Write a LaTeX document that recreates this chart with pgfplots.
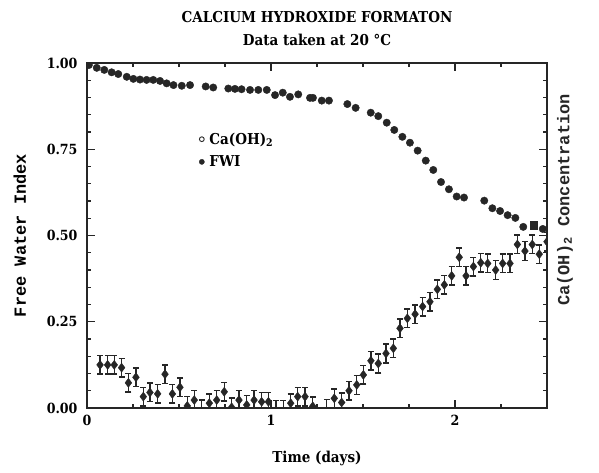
\documentclass[border=0pt]{standalone}
\usepackage{pgfplots}
\pgfplotsset{compat=1.18}
\usepackage{fontspec}
\setmainfont{DejaVu Serif Condensed}
\newfontfamily\monofont{Liberation Mono}
\definecolor{ink}{HTML}{262626}
\begin{document}
\begin{tikzpicture}
\begin{axis}[
  name=ax,
  scale only axis, width=460pt, height=345pt,
  xmin=0, xmax=2.5, ymin=0, ymax=1,
  xtick={0,1,2},
  minor xtick={0.25,0.5,0.75,1.25,1.5,1.75,2.25},
  ytick={0,0.25,0.5,0.75,1},
  minor y tick num=4,
  tick pos=both, tick align=inside,
  major tick length=8pt, minor tick length=4.5pt,
  every tick/.style={line width=1.2pt, ink},
  axis line style={line width=1.8pt, ink},
  /pgf/number format/assume math mode=true,
  yticklabel style={/pgf/number format/fixed, /pgf/number format/fixed zerofill, /pgf/number format/precision=2, font=\fontsize{14}{16}\selectfont\bfseries, xshift=-6pt},
  xticklabel style={font=\fontsize{14}{16}\selectfont\bfseries, yshift=-4pt},
  xlabel={Time (days)},
  xlabel style={font=\fontsize{15}{18}\selectfont\bfseries, yshift=-18pt},
  ylabel={Free Water Index},
  ylabel style={font=\monofont\fontsize{17}{20}\selectfont\bfseries, yshift=14pt},
  title={CALCIUM HYDROXIDE FORMATON\\Data taken at 20 °C},
  title style={font=\fontsize{15}{23}\selectfont\bfseries, align=center, yshift=8pt},
  clip marker paths=true,
  legend style={at={(0.237,0.81)}, anchor=north west, draw=none, fill=none,
    font=\fontsize{15}{18}\selectfont\bfseries, row sep=6pt,
    legend cell align=left,
    nodes={inner xsep=5pt}},
]
\addlegendimage{only marks, mark=o, mark size=2.4pt, ink, line width=0.9pt}
\addlegendentry{Ca(OH)\textsubscript{2}}
\addlegendimage{only marks, mark=*, mark size=2.6pt, ink}
\addlegendentry{FWI}

% FWI
\addplot[forget plot, only marks, mark=*, mark size=3.7pt, ink] table {
x y
0.010 0.994
0.053 0.986
0.094 0.980
0.134 0.973
0.170 0.968
0.216 0.960
0.252 0.954
0.288 0.952
0.324 0.951
0.360 0.951
0.397 0.948
0.433 0.941
0.470 0.936
0.515 0.934
0.560 0.936
0.645 0.932
0.686 0.929
0.768 0.926
0.804 0.925
0.840 0.924
0.886 0.922
0.931 0.922
0.977 0.922
1.022 0.907
1.064 0.914
1.103 0.902
1.148 0.909
1.212 0.899
1.228 0.899
1.276 0.891
1.315 0.891
1.415 0.881
1.460 0.870
1.542 0.856
1.583 0.846
1.629 0.827
1.670 0.806
1.714 0.786
1.755 0.769
1.797 0.746
1.841 0.717
1.882 0.690
1.924 0.655
1.967 0.634
2.009 0.613
2.049 0.610
2.159 0.601
2.203 0.579
2.245 0.571
2.286 0.559
2.328 0.551
2.371 0.525
2.477 0.519
};
\addplot[forget plot, only marks, mark=square*, mark size=3.6pt, ink] table {
x y
2.426 0.530
};

% Ca(OH)2
\addplot[forget plot, only marks, mark=diamond*, mark size=4.5pt, ink,
  error bars/.cd, y dir=both, y fixed=0.027,
  error bar style={line width=1.4pt, ink},
  error mark options={rotate=90, line width=1.4pt, mark size=3pt, ink}] table {
x y
0.071 0.125
0.112 0.125
0.148 0.125
0.188 0.117
0.225 0.073
0.266 0.089
0.306 0.033
0.342 0.045
0.384 0.041
0.424 0.098
0.464 0.041
0.505 0.060
0.545 0.006
0.583 0.023
0.623 -0.004
0.665 0.014
0.705 0.023
0.746 0.047
0.786 0.002
0.826 0.023
0.868 0.009
0.908 0.023
0.949 0.018
0.986 0.018
1.027 -0.006
1.067 -0.006
1.107 0.014
1.145 0.033
1.185 0.033
1.227 0.005
1.303 -0.002
1.344 0.028
1.384 0.016
1.424 0.050
1.466 0.067
1.502 0.096
1.543 0.137
1.583 0.129
1.625 0.158
1.665 0.173
1.701 0.231
1.741 0.260
1.783 0.272
1.824 0.294
1.864 0.308
1.904 0.344
1.942 0.357
1.982 0.383
2.023 0.437
2.060 0.383
2.100 0.410
2.140 0.421
2.178 0.419
2.221 0.400
2.259 0.419
2.299 0.419
2.339 0.474
2.380 0.455
2.420 0.474
2.458 0.446
2.500 0.482
};
\end{axis}
\node[rotate=90, font=\monofont\fontsize{17}{20}\selectfont\bfseries, ink]
  at ([xshift=18pt, yshift=-137pt]ax.north east) {Ca(OH)\textsubscript{2} Concentration};
\pgfresetboundingbox
\path[use as bounding box] ([xshift=-87pt, yshift=-64pt]ax.south west) rectangle ++(599pt,472pt);
\end{tikzpicture}
\end{document}
